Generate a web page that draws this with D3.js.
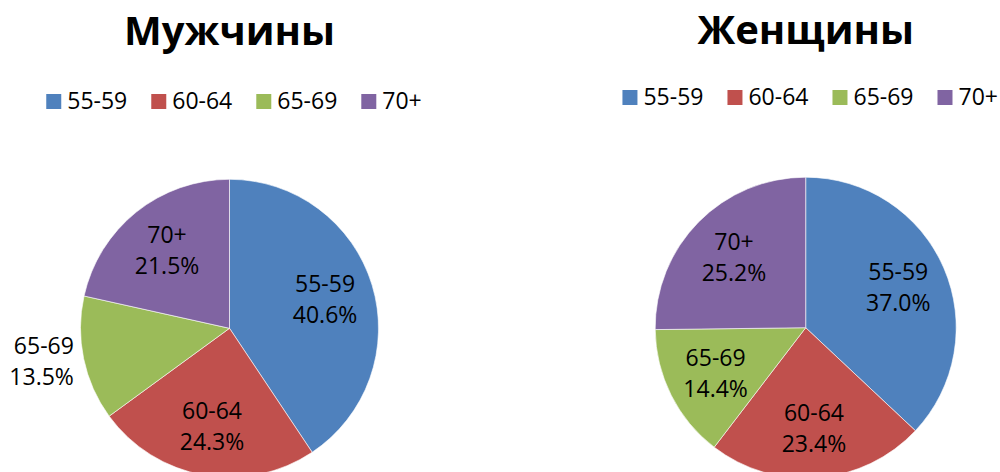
<!DOCTYPE html>
<html>
<head>
<meta charset="utf-8">
<script src="https://cdn.jsdelivr.net/npm/d3@7"></script>
<style>
  body { margin: 0; background: #fff; }
  text { font-family: "Open Sans", "Noto Sans", sans-serif; fill: #000; }
</style>
</head>
<body>
<div id="chart"></div>
<script>
var svgWidth = 1000;
var svgHeight = 472;

// age groups and shares (%)
var categories = ["55-59", "60-64", "65-69", "70+"];
var menValues = [40.6, 24.3, 13.5, 21.5];
var womenValues = [37.0, 23.4, 14.4, 25.2];
var titles = ["Мужчины", "Женщины"];
var colors = ["#4F81BD", "#C0504D", "#9BBB59", "#8064A2"];

var fontSize = 23;
var lineHeight = 31;

var svg = d3.select("#chart")
  .append("svg")
  .attr("width", svgWidth)
  .attr("height", svgHeight);

var color = d3.scaleOrdinal()
  .domain(categories)
  .range(colors);

var pie = d3.pie()
  .sort(null)
  .value(d => d.value);

// layout of the two charts
var charts = [
  { title: titles[0], values: menValues, cx: 229.5, cy: 328.3, r: 149, titleY: 44.5, legendY: 109 },
  { title: titles[1], values: womenValues, cx: 805.7, cy: 327.7, r: 150.5, titleY: 43.5, legendY: 105 }
];

charts.forEach(function (c) {
  var data = categories.map((k, i) => ({ key: k, value: c.values[i] }));

  var g = svg.append("g");

  // title
  g.append("text")
    .attr("x", c.cx)
    .attr("y", c.titleY)
    .attr("text-anchor", "middle")
    .attr("font-size", "40px")
    .attr("font-weight", "bold")
    .text(c.title);

  // legend
  var legend = g.append("g");
  var xPos = 0;
  categories.forEach(function (k) {
    var item = legend.append("g").attr("transform", `translate(${xPos}, 0)`);
    item.append("rect")
      .attr("x", 0)
      .attr("y", -15)
      .attr("width", 15)
      .attr("height", 15)
      .attr("fill", color(k));
    var t = item.append("text")
      .attr("x", 21)
      .attr("y", 0)
      .attr("font-size", fontSize + "px")
      .text(k);
    xPos += 21 + t.node().getComputedTextLength() + 24;
  });
  var legendWidth = xPos - 24;
  legend.attr("transform", `translate(${c.cx + 4.5 - legendWidth / 2}, ${c.legendY})`);

  // pie
  var arc = d3.arc().innerRadius(0).outerRadius(c.r);
  var pieGroup = g.append("g")
    .attr("transform", `translate(${c.cx}, ${c.cy})`);

  var arcs = pie(data);

  pieGroup.selectAll("path")
    .data(arcs)
    .enter()
    .append("path")
    .attr("d", arc)
    .attr("fill", d => color(d.data.key))
    .attr("stroke", "#fff")
    .attr("stroke-width", 0.6);

  // labels: inside at 2/3 radius, small slices go outside
  var inner = d3.arc().innerRadius(c.r * 0.67).outerRadius(c.r * 0.67);
  var outer = d3.arc().innerRadius(c.r + 10).outerRadius(c.r + 10);

  pieGroup.selectAll(".label")
    .data(arcs)
    .enter()
    .append("text")
    .classed("label", true)
    .attr("font-size", fontSize + "px")
    .each(function (d) {
      var outside = d.data.value < 14;
      var p = outside ? outer.centroid(d) : inner.centroid(d);
      var anchor = outside ? (p[0] < 0 ? "end" : "start") : "middle";
      var t = d3.select(this).attr("text-anchor", anchor);
      t.append("tspan")
        .attr("x", p[0])
        .attr("y", p[1] - 7.25)
        .text(d.data.key);
      t.append("tspan")
        .attr("x", p[0])
        .attr("y", p[1] - 7.25 + lineHeight)
        .text(d3.format(".1f")(d.data.value) + "%");
    });
});
</script>
</body>
</html>
